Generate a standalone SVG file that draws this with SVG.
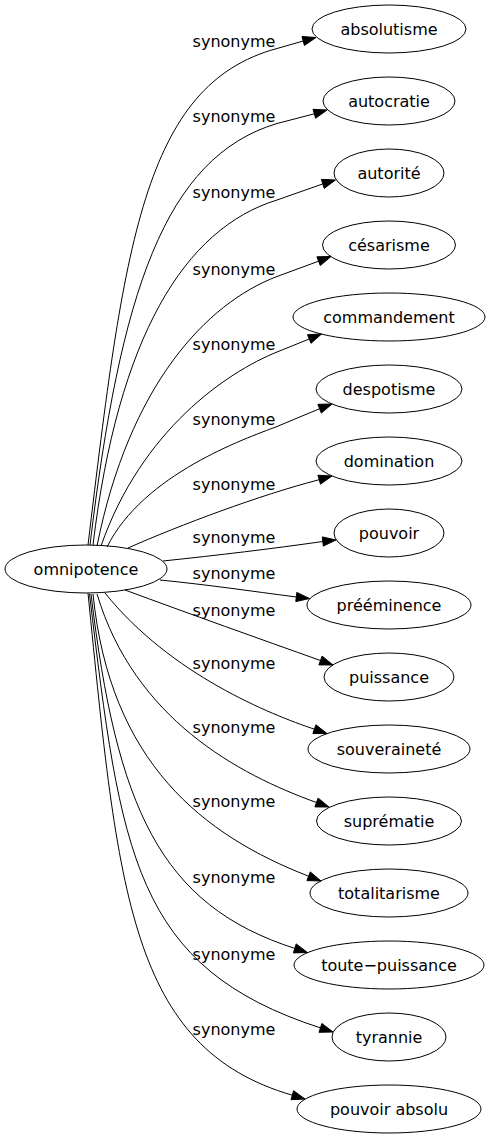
<svg xmlns="http://www.w3.org/2000/svg" width="492" height="1139" viewBox="0 0 492 1139">
<style>
.node ellipse{fill:none;stroke:#000;stroke-width:1}
.node text{font-family:"DejaVu Sans",sans-serif;font-size:16px;fill:#000;text-anchor:middle}
.edge path{fill:none;stroke:#000;stroke-width:1}
.edge polygon{fill:#000;stroke:#000;stroke-width:1}
.edge text{font-family:"DejaVu Sans",sans-serif;font-size:16px;fill:#000;text-anchor:middle}
</style>
<rect width="492" height="1139" fill="#fff"/>
<g id="edges">
<g class="edge" id="e1"><path d="M88,545 C123.8,247 142.9,84.6 277,48.5 L303.2,41"/><polygon points="316,37.5 304.4,45.5 302,36.5"/><text x="234" y="46.5">synonyme</text></g>
<g class="edge" id="e2"><path d="M90,545 C120.2,293 164.3,157.3 277,123.5 L314.3,113.8"/><polygon points="327,110 315.6,118.3 313,109.3"/><text x="234" y="121.5">synonyme</text></g>
<g class="edge" id="e3"><path d="M93,545 C118,337 184.3,228.5 277,200 L322.8,183.9"/><polygon points="335.5,180 324.2,188.4 321.4,179.4"/><text x="234" y="198">synonyme</text></g>
<g class="edge" id="e4"><path d="M97,546 C129.2,385 206.6,303.2 277,276.5 L318.6,261.2"/><polygon points="331,256.5 320.3,265.6 316.9,256.8"/><text x="234" y="274.5">synonyme</text></g>
<g class="edge" id="e5"><path d="M101,546 C141.6,430 226.7,372.4 277,352 L309.2,339"/><polygon points="321.5,334 311,343.3 307.5,334.7"/><text x="234" y="350">synonyme</text></g>
<g class="edge" id="e6"><path d="M107,547 C143.5,474 245.2,438.6 277,426.5 L319.6,408.7"/><polygon points="332,404 321.3,413.1 317.9,404.3"/><text x="234" y="424.5">synonyme</text></g>
<g class="edge" id="e7"><path d="M128,548 C180,525 260,495 319.2,479.7"/><polygon points="332,476 320.5,484.2 317.9,475.2"/><text x="234" y="489.5">synonyme</text></g>
<g class="edge" id="e8"><path d="M163,561 C220,555 270,549 322.8,541.5"/><polygon points="336,540 323.3,546.1 322.3,536.9"/><text x="234" y="543">synonyme</text></g>
<g class="edge" id="e9"><path d="M160,580 C210,585 250,591 296.3,597"/><polygon points="309.5,598.5 295.8,601.6 296.8,592.4"/><text x="234" y="578.5">synonyme</text></g>
<g class="edge" id="e10"><path d="M125,590 C190,614 260,639 320.5,660.5"/><polygon points="333,665 318.9,664.9 322.1,656.1"/><text x="234" y="615.5">synonyme</text></g>
<g class="edge" id="e11"><path d="M105,593 C171,675 270.8,714.5 314.4,729.2"/><polygon points="327,733.5 312.9,733.6 315.9,724.8"/><text x="234" y="668.5">synonyme</text></g>
<g class="edge" id="e12"><path d="M97,594 C134.5,719 238.4,774.4 316.5,802.5"/><polygon points="329,807 314.9,806.9 318.1,798.1"/><text x="234" y="733">synonyme</text></g>
<g class="edge" id="e13"><path d="M93,594 C110,763 203.3,835.2 308.6,876.2"/><polygon points="321,881 306.9,880.6 310.3,871.9"/><text x="234" y="806.5">synonyme</text></g>
<g class="edge" id="e14"><path d="M91,594 C116.6,807 159.6,905.1 294.8,948.4"/><polygon points="307.5,952.5 293.4,952.9 296.2,943.9"/><text x="234" y="883">synonyme</text></g>
<g class="edge" id="e15"><path d="M89.5,594 C120.7,854 134,967.4 320.4,1027.9"/><polygon points="333,1032 319,1032.3 321.9,1023.5"/><text x="234" y="960">synonyme</text></g>
<g class="edge" id="e16"><path d="M88,593 C118,893 130,1048 292.3,1095.2"/><polygon points="305,1099 291,1099.7 293.6,1090.7"/><text x="234" y="1035">synonyme</text></g>
</g>
<g class="node" id="omnipotence"><ellipse cx="86" cy="569" rx="81" ry="24"/><text x="86" y="574.5">omnipotence</text></g>
<g class="node" id="absolutisme"><ellipse cx="389" cy="29" rx="77" ry="24"/><text x="389" y="34.5">absolutisme</text></g>
<g class="node" id="autocratie"><ellipse cx="389" cy="101" rx="66" ry="24"/><text x="389" y="106.5">autocratie</text></g>
<g class="node" id="autorite"><ellipse cx="389" cy="173" rx="55" ry="24"/><text x="389" y="178.5">autorité</text></g>
<g class="node" id="cesarisme"><ellipse cx="389" cy="245" rx="66.5" ry="24"/><text x="389" y="250.5">césarisme</text></g>
<g class="node" id="commandement"><ellipse cx="389" cy="317" rx="96" ry="24"/><text x="389" y="322.5">commandement</text></g>
<g class="node" id="despotisme"><ellipse cx="389" cy="389" rx="73" ry="24"/><text x="389" y="394.5">despotisme</text></g>
<g class="node" id="domination"><ellipse cx="389" cy="461" rx="73" ry="24"/><text x="389" y="466.5">domination</text></g>
<g class="node" id="pouvoir"><ellipse cx="389" cy="533" rx="55" ry="24"/><text x="389" y="538.5">pouvoir</text></g>
<g class="node" id="preeminence"><ellipse cx="389" cy="605" rx="82" ry="24"/><text x="389" y="610.5">prééminence</text></g>
<g class="node" id="puissance"><ellipse cx="389" cy="677" rx="65" ry="24"/><text x="389" y="682.5">puissance</text></g>
<g class="node" id="souverainete"><ellipse cx="389" cy="749" rx="81" ry="24"/><text x="389" y="754.5">souveraineté</text></g>
<g class="node" id="suprematie"><ellipse cx="389" cy="821" rx="72.5" ry="24"/><text x="389" y="826.5">suprématie</text></g>
<g class="node" id="totalitarisme"><ellipse cx="389" cy="893" rx="79" ry="24"/><text x="389" y="898.5">totalitarisme</text></g>
<g class="node" id="toute-puissance"><ellipse cx="389" cy="965" rx="95" ry="24"/><text x="389" y="970.5">toute−puissance</text></g>
<g class="node" id="tyrannie"><ellipse cx="389" cy="1037" rx="57" ry="24"/><text x="389" y="1042.5">tyrannie</text></g>
<g class="node" id="pouvoir-absolu"><ellipse cx="389" cy="1109" rx="92" ry="24"/><text x="389" y="1114.5">pouvoir absolu</text></g>
</svg>
